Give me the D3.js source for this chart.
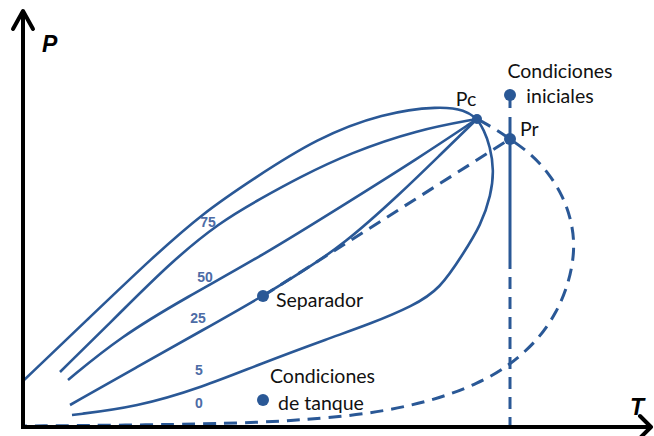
<!DOCTYPE html>
<html><head><meta charset="utf-8">
<script src="https://cdn.jsdelivr.net/npm/d3@7/dist/d3.min.js"></script>
<style>html,body{margin:0;padding:0;background:#fff}svg{display:block}</style>
</head><body>
<svg id="c" width="654" height="436"></svg>
<script>
// Data in (T, P) diagram units
const curve100 = [[0,46],[64,107],[130,170],[180,214],[230,248],[294,289],[360,314],[417,321],[442,317],[454,308]];
const curve75 = [[37,55],[97,114],[147,164],[197,205],[237,228],[277,250],[327,274],[394,297],[454,308]];
const curve50 = [[45,47],[97,90],[164,130],[237,170],[327,226],[394,268],[454,308]];
const curve25 = [[47,22],[114,60],[180,97],[240,131],[280,156],[320,182],[377,233],[417,272],[454,308]];
const curve0 = [[49,12],[114,20],[180,40],[237,63],[307,89],[347,103],[390,121],[417,138],[440,173],[458,202],[468,232],[471,257],[467,281],[461,297],[454,308]];
const envelopeDashed = [[456,307],[474,297],[487,288],[507,274],[525,255],[540,231],[549,205],[552,177],[546,144],[533,113],[514,86],[487,62],[457,44],[407,25],[340,12],[277,7],[227,4],[127,2],[0,1]];
const separatorPath = [[240,131],[487,288]];
const verticalSolid = [[487,310],[487,170]];
const verticalStem = [[487,332],[487,319]];
const verticalDashed = [[487,170],[487,-5]];
const pointNames = ["Pc","Pr","Condiciones iniciales","Separador","Tanque"];
const pointT = [454,487,487,240,240];
const pointP = [308,288,332,131,27];
const qualityLabels = ["75","50","25","5","0"];
const qualityT = [185,182,175,176,176];
const qualityP = [200,145,104,52,19];
// [text, T, P, anchor]
const textLines = [["Pc",443,321,"middle"],["Pr",497,291,"start"],["Condiciones",537,349,"middle"],["iniciales",537,324,"middle"],["Separador",253,120,"start"],["Condiciones",247,44,"start"],["de tanque",255,17,"start"]];
const axisNames = ["P","T"];

const svg = d3.select("#c");
const x = d3.scaleLinear().domain([0,630]).range([23,653]);
const y = d3.scaleLinear().domain([0,417]).range([427,10]);
const blue = "#2a5896";
const line = d3.line().x(d=>x(d[0])).y(d=>y(d[1])).curve(d3.curveBasis);
const straight = d3.line().x(d=>x(d[0])).y(d=>y(d[1]));

[curve100,curve75,curve50,curve25,curve0].forEach(c=>{
  svg.append("path").attr("d",line(c)).attr("fill","none").attr("stroke",blue).attr("stroke-width",2.6);
});
svg.append("path").attr("d",line(envelopeDashed)).attr("fill","none").attr("stroke",blue).attr("stroke-width",3).attr("stroke-dasharray","13,8");
svg.append("path").attr("d",straight(separatorPath)).attr("fill","none").attr("stroke",blue).attr("stroke-width",3).attr("stroke-dasharray","13,8");
svg.append("path").attr("d",straight(verticalSolid)).attr("fill","none").attr("stroke",blue).attr("stroke-width",3);
svg.append("path").attr("d",straight(verticalStem)).attr("fill","none").attr("stroke",blue).attr("stroke-width",3);
svg.append("path").attr("d",straight(verticalDashed)).attr("fill","none").attr("stroke",blue).attr("stroke-width",3).attr("stroke-dasharray","12,8");

pointNames.forEach((n,i)=>{
  svg.append("circle").attr("cx",x(pointT[i])).attr("cy",y(pointP[i])).attr("r",i===0?5:6).attr("fill",blue);
});

qualityLabels.forEach((t,i)=>{
  svg.append("text").attr("x",x(qualityT[i])).attr("y",y(qualityP[i])).attr("text-anchor","middle")
    .attr("font-family","Liberation Sans, Arial, sans-serif").attr("font-weight","bold").attr("font-size",14)
    .attr("fill","#4d6ca6").text(t);
});

textLines.forEach(d=>{
  svg.append("text").attr("x",x(d[1])).attr("y",y(d[2])).attr("text-anchor",d[3])
    .attr("font-family","Lato, 'Open Sans', sans-serif").attr("font-size",19.5).attr("fill","#111").text(d[0]);
});

const axisW = 4;
svg.append("line").attr("x1",x(0)).attr("y1",y(0)).attr("x2",x(0)).attr("y2",y(415)).attr("stroke","#000").attr("stroke-width",axisW);
svg.append("line").attr("x1",x(-2)).attr("y1",y(0)).attr("x2",x(628)).attr("y2",y(0)).attr("stroke","#000").attr("stroke-width",axisW);
svg.append("path").attr("d",`M${x(-10)},${y(398)} L${x(0)},${y(416)} L${x(10)},${y(398)}`).attr("fill","none").attr("stroke","#000").attr("stroke-width",axisW).attr("stroke-linecap","round").attr("stroke-linejoin","round");
svg.append("path").attr("d",`M${x(617)},${y(11)} L${x(628)},${y(0)} L${x(617)},${y(-11)}`).attr("fill","none").attr("stroke","#000").attr("stroke-width",axisW).attr("stroke-linecap","round").attr("stroke-linejoin","round");
svg.append("text").attr("x",x(19)).attr("y",y(375)).attr("font-family","Liberation Sans, Arial, sans-serif").attr("font-weight","bold").attr("font-style","italic").attr("font-size",23).attr("fill","#000").text(axisNames[0]);
svg.append("text").attr("x",x(607)).attr("y",y(12)).attr("font-family","Liberation Sans, Arial, sans-serif").attr("font-weight","bold").attr("font-style","italic").attr("font-size",23).attr("fill","#000").text(axisNames[1]);
</script>
</body></html>
